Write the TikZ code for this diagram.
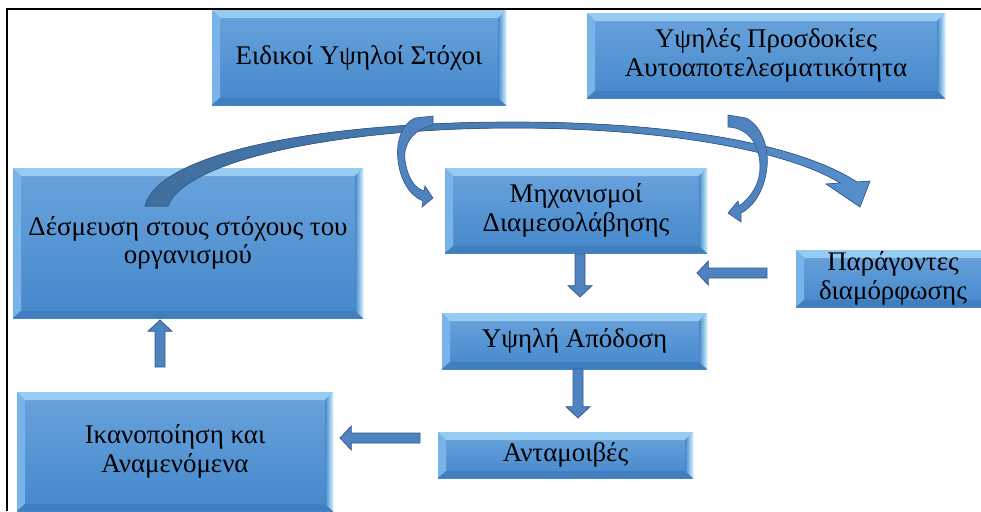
\documentclass[tikz,border=0pt]{standalone}
\usepackage{fontspec}
\setmainfont{Liberation Serif}
\usetikzlibrary{calc,positioning}

\definecolor{facetop}{RGB}{106,163,220}
\definecolor{facebot}{RGB}{68,136,203}
\definecolor{bevtopc}{RGB}{150,203,242}
\definecolor{bevleftc}{RGB}{120,180,233}
\definecolor{bevbotc}{RGB}{64,126,192}
\definecolor{bevedge}{RGB}{210,240,255}
\definecolor{arrfill}{RGB}{79,131,192}
\definecolor{arrline}{RGB}{52,92,140}
\definecolor{bigleft}{RGB}{64,110,158}
\definecolor{bigright}{RGB}{86,142,204}

\newcommand{\boxfont}{\fontsize{20.2}{21.5}\selectfont}

% bevelled box: name, centre x, centre y, width, height, text
\newcommand{\bevbox}[6]{%
  \pgfmathsetmacro{\bxa}{#2-#4/2}\pgfmathsetmacro{\bxb}{#2+#4/2}%
  \pgfmathsetmacro{\bya}{#3-#5/2}\pgfmathsetmacro{\byb}{#3+#5/2}%
  \pgfmathsetmacro{\bw}{#4*0.75}\pgfmathsetmacro{\bh}{#5*0.75}%
  \shade [top color=facetop, bottom color=facebot] (\bxa,\bya) rectangle (\bxb,\byb);
  \fill [bevtop] (\bxa,\bya) -- (\bxb,\bya) -- (\bxb-8,\bya+8) -- (\bxa+8,\bya+8) -- cycle;
  \fill [bevleft] (\bxa,\bya) -- (\bxa+8,\bya+8) -- (\bxa+8,\byb-7) -- (\bxa,\byb) -- cycle;
  \fill [bevbot] (\bxa,\byb) -- (\bxa+8,\byb-7) -- (\bxb-8,\byb-7) -- (\bxb,\byb) -- cycle;
  \shade [bevright] (\bxb,\bya) -- (\bxb-8,\bya+8) -- (\bxb-8,\byb-7) -- (\bxb,\byb) -- cycle;
  \node [boxtext, minimum width=\bw pt, minimum height=\bh pt] (#1) at (#2,#3) {#6};
}

\begin{document}
\begin{tikzpicture}[x=0.75pt,y=0.75pt,yscale=-1,xscale=1,
  bevtop/.style={fill=bevtopc},
  bevleft/.style={fill=bevleftc},
  bevbot/.style={fill=bevbotc},
  bevright/.style={left color=facebot, right color=bevedge},
  boxtext/.style={inner sep=0pt, outer sep=0pt, align=center, font=\boxfont, text=black},
  curvarr/.style={fill=arrfill, draw=arrline, line width=0.5},
  bigarr/.style={left color=bigleft, right color=bigright, draw=arrline, line width=0.5},
  blockarr/.style={fill=arrfill, draw=arrline, line width=0.6,
    to path={($(\tikztostart)!3.75pt!90:(\tikztotarget)$)
      -- ($($(\tikztotarget)!8.5pt!(\tikztostart)$)!3.75pt!90:(\tikztotarget)$)
      -- ($($(\tikztotarget)!8.5pt!(\tikztostart)$)!9pt!90:(\tikztotarget)$)
      -- (\tikztotarget)
      -- ($($(\tikztotarget)!8.5pt!(\tikztostart)$)!9pt!-90:(\tikztotarget)$)
      -- ($($(\tikztotarget)!8.5pt!(\tikztostart)$)!3.75pt!-90:(\tikztotarget)$)
      -- ($(\tikztostart)!3.75pt!-90:(\tikztotarget)$) -- cycle}}
]
\useasboundingbox (0,0) rectangle (981,511);
\clip (0,0) rectangle (981,511);

%Boxes
\bevbox{goals}{359}{57.5}{294}{95}{Ειδικοί Υψηλοί Στόχοι}
\bevbox{expect}{766}{55.5}{358}{85}{Υψηλές Προσδοκίες\\Αυτοαποτελεσματικότητα}
\bevbox{commit}{188}{243}{350}{150}{Δέσμευση στους στόχους του\\οργανισμού}
\bevbox{mech}{576}{210.5}{262}{85}{Μηχανισμοί\\Διαμεσολάβησης}
\bevbox{moder}{893}{278.5}{194}{57}{Παράγοντες\\διαμόρφωσης}
\bevbox{perf}{574.5}{341}{265}{56}{Υψηλή Απόδοση}
\bevbox{satis}{175}{451.5}{316}{119}{Ικανοποίηση και\\Αναμενόμενα}
\bevbox{reward}{565.5}{455}{255}{46}{Ανταμοιβές}

%Curved Arrow (commitment to moderators)
\filldraw [bigarr] (145,206) .. controls (160,150) and (330,122) .. (513,122) .. controls (680,122) and (800,145) .. (857,182) -- (870,181) -- (860,207) -- (826,184) -- (840,183) .. controls (790,152) and (670,128) .. (513,128) .. controls (340,128) and (185,160) .. (168,206) -- cycle;
%Curved Arrow (goals to mechanisms)
\filldraw [curvarr] (433,125) .. controls (410,130) and (403,148) .. (405,160) .. controls (407,176) and (414,188) .. (424,191) -- (425,186) -- (433,198) -- (422,207) -- (423,201) .. controls (410,196) and (400,180) .. (398,160) .. controls (396,145) and (400,125) .. (415,118) -- (433,116) -- cycle;
%Curved Arrow (expectations to mechanisms)
\filldraw [curvarr] (728,115) -- (746,118) .. controls (762,126) and (769,148) .. (767,167) .. controls (765,188) and (755,206) .. (741,213) -- (741,222) -- (728,213) -- (738,201) -- (739,206) .. controls (750,198) and (760,185) .. (760,167) .. controls (760,147) and (750,128) .. (728,127) -- cycle;

%Block Arrows
\coordinate (a1s) at ($(mech.south)+(4,1)$);
\coordinate (a1e) at ($(perf.north)+(5.5,-16)$);
\coordinate (a2s) at ($(moder.west)+(-29,-5.5)$);
\coordinate (a2e) at ($(mech.south east)+(-10,20)$);
\coordinate (a3s) at ($(perf.south)+(3.5,0)$);
\coordinate (a3e) at ($(reward.north)+(12.5,-14)$);
\coordinate (a4s) at ($(reward.west)+(-18,-17)$);
\coordinate (a4e) at ($(satis.east)+(7,-13.5)$);
\coordinate (a5s) at ($(satis.north)+(-15,-25)$);
\coordinate (a5e) at ($(commit.south)+(-28,2)$);
\draw [blockarr] (a1s) to (a1e);
\draw [blockarr] (a2s) to (a2e);
\draw [blockarr] (a3s) to (a3e);
\draw [blockarr] (a4s) to (a4e);
\draw [blockarr] (a5s) to (a5e);

%Frame
\draw [line width=1.8] (7,511) -- (7,9) -- (981,9);
\end{tikzpicture}
\end{document}
